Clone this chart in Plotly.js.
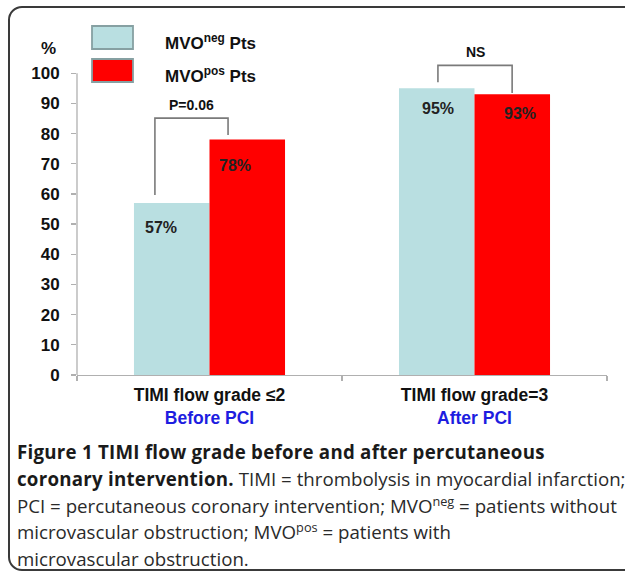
<!DOCTYPE html>
<html>
<head>
<meta charset="utf-8">
<script src="https://cdn.plot.ly/plotly-3.0.1.min.js"></script>
<style>
  html, body { margin: 0; padding: 0; background: #fff; width: 625px; height: 579px; overflow: hidden; }
  #frame { position: absolute; left: 8px; top: 6px; width: 700px; height: 565px; box-sizing: border-box;
           border: 2px solid #3a3a3a; border-radius: 14px; }
  #chart { position: absolute; left: 0; top: 0; width: 625px; height: 440px; }
  #caption { position: absolute; left: 17px; top: 439px; font-family: "Open Sans", "Noto Sans", sans-serif;
             font-size: 18.7px; line-height: 26.8px; color: #2a2a2a; white-space: nowrap; }
  #caption b { color: #1a1a1a; letter-spacing: 0.25px; }
  #caption sup { font-size: 0.68em; line-height: 0; vertical-align: 0.55em; }
</style>
</head>
<body>
<div id="frame"></div>
<div id="chart"></div>
<div id="caption">
<b>Figure 1 TIMI flow grade before and after percutaneous</b><br>
<b>coronary intervention.</b> TIMI = thrombolysis in myocardial infarction;<br>
PCI = percutaneous coronary intervention; MVO<sup>neg</sup> = patients without<br>
microvascular obstruction; MVO<sup>pos</sup> = patients with<br>
microvascular obstruction.
</div>
<script>
// ---- data ----
const categories = ["TIMI flow grade \u22642", "TIMI flow grade=3"];
const phases = ["Before PCI", "After PCI"];
const seriesNames = ["MVO<sup>neg</sup> Pts", "MVO<sup>pos</sup> Pts"];
const mvoNeg = [57, 95];
const mvoPos = [78, 93];
const pLabels = ["P=0.06", "NS"];
const yTicks = [0, 10, 20, 30, 40, 50, 60, 70, 80, 90, 100];

// ---- style / layout constants ----
const colNeg = "#b9dfe1";
const colPos = "#ff0000";
const FONT = "Liberation Sans, Arial, sans-serif";
const barOffset = 0.1425;                 // half of a bar width in category units
const labelShiftX = [[-11, -12], [1, 8]]; // px shift of value labels [group][series]
const labelShiftY = [[-25, -26], [-20, -19]];
const bracketX = [[-0.206, 0.07], [-0.138, 0.142]];
const bracketLeg = [[2.6, 1.5], [2.0, 0.4]];
const bracketTop = [7.1, 7.6];
const bracketTextGap = 4.3;
const TOP = 43; // plot-area top margin in px

const traces = [
  { type: "bar", x: categories, y: mvoNeg, name: seriesNames[0], marker: { color: colNeg },
    hoverinfo: "none", showlegend: false },
  { type: "bar", x: categories, y: mvoPos, name: seriesNames[1], marker: { color: colPos },
    hoverinfo: "none", showlegend: false }
];

const shapes = [];
const annotations = [];
const series = [mvoNeg, mvoPos];

categories.forEach((c, i) => {
  series.forEach((s, k) => {
    annotations.push({
      x: i + (k === 0 ? -barOffset : barOffset), y: s[i], xref: "x", yref: "y",
      xanchor: "center", yanchor: "middle",
      text: s[i] + "%", showarrow: false, xshift: labelShiftX[i][k], yshift: labelShiftY[i][k],
      font: { family: FONT, size: 16, weight: "bold", color: "#222" }
    });
  });
  const top = Math.max(mvoNeg[i], mvoPos[i]) + bracketTop[i];
  const xl = i + bracketX[i][0], xr = i + bracketX[i][1];
  shapes.push({
    type: "path", xref: "x", yref: "y",
    path: `M ${xl},${mvoNeg[i] + bracketLeg[i][0]} L ${xl},${top} L ${xr},${top} L ${xr},${mvoPos[i] + bracketLeg[i][1]}`,
    line: { color: "#7a7a7a", width: 1.6 }
  });
  annotations.push({
    x: (xl + xr) / 2, y: top + bracketTextGap, xref: "x", yref: "y", text: pLabels[i],
    xanchor: "center", yanchor: "middle",
    showarrow: false, font: { family: FONT, size: 14, weight: "bold", color: "#111" }
  });
});

// y axis line from 0 to 100
shapes.push({ type: "line", xref: "paper", yref: "y", x0: 0, x1: 0, y0: 0, y1: yTicks[yTicks.length - 1],
  line: { color: "#b0b0b0", width: 1.3 } });

// legend swatches (pixel sized, anchored at top-left of plot area)
[colNeg, colPos].forEach((col, k) => {
  shapes.push({ type: "rect", xref: "paper", yref: "paper", xsizemode: "pixel", ysizemode: "pixel",
    xanchor: 0, yanchor: 1, x0: 15, x1: 56, y0: (TOP - 49) - 33 * k, y1: (TOP - 26) - 33 * k,
    fillcolor: col, line: { color: "#86a0a2", width: 1.8 } });
  annotations.push({ xref: "paper", yref: "paper", x: 0, y: 1, xshift: 86, yshift: (TOP - 42) - 33 * k,
    xanchor: "left", yanchor: "middle", text: seriesNames[k], showarrow: false,
    font: { family: FONT, size: 17, weight: "bold", color: "#111" } });
});

// "%" unit label
annotations.push({ xref: "paper", yref: "paper", x: 0, y: 1, xshift: -28.5, yshift: TOP - 48,
  xanchor: "center", yanchor: "middle",
  text: "%", showarrow: false, font: { family: FONT, size: 17, weight: "bold", color: "#111" } });

const layout = {
  width: 625, height: 440,
  margin: { l: 77, r: 18, t: TOP, b: 65, pad: 0 },
  paper_bgcolor: "rgba(0,0,0,0)", plot_bgcolor: "rgba(0,0,0,0)",
  barmode: "group", bargap: 0.43, bargroupgap: 0,
  font: { family: FONT },
  xaxis: {
    type: "category", tickvals: categories,
    ticktext: categories.map((c, i) => c + "<br><span style='color:#1d1de0'>" + phases[i] + "</span>"),
    tickson: "boundaries", ticks: "outside", ticklen: 5, tickcolor: "#b0b0b0", tickwidth: 1.3,
    showline: true, linecolor: "#b0b0b0", linewidth: 1.3, showgrid: false, zeroline: false,
    tickfont: { family: FONT, size: 17.5, weight: "bold", color: "#111" }, ticklabelstandoff: 4,
    range: [-0.5, 1.5], fixedrange: true
  },
  yaxis: {
    range: [0, 110], tickvals: yTicks, ticktext: yTicks.map(String),
    ticks: "outside", ticklen: 5, tickcolor: "#b0b0b0", tickwidth: 1.3,
    showline: false, showgrid: false, zeroline: false,
    tickfont: { family: FONT, size: 17, weight: "bold", color: "#111" }, ticklabelstandoff: 8,
    fixedrange: true
  },
  shapes: shapes,
  annotations: annotations,
  showlegend: false
};

Plotly.newPlot("chart", traces, layout, { displayModeBar: false, staticPlot: true });
</script>
</body>
</html>
